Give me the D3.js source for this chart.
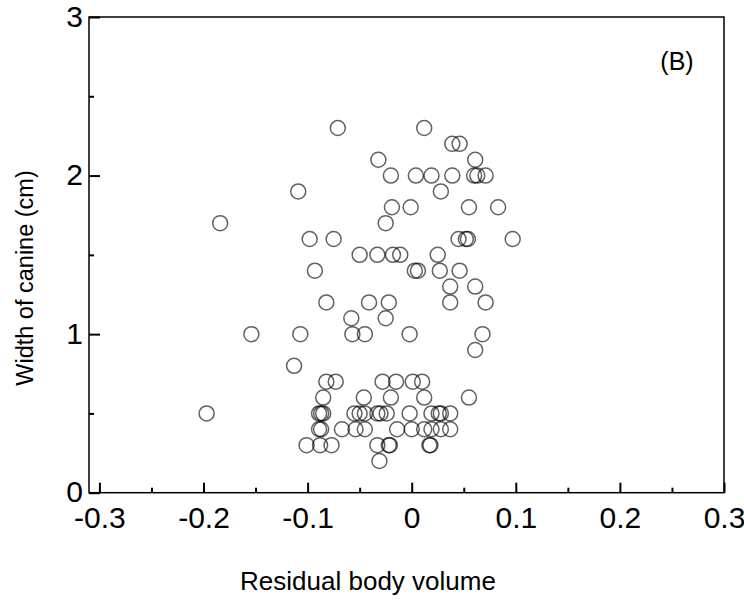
<!DOCTYPE html>
<html>
<head>
<meta charset="utf-8">
<script src="https://cdn.jsdelivr.net/npm/d3@7"></script>
<style>
  body { margin: 0; background: #fff; }
  svg { display: block; }
  text { font-family: "Liberation Sans", Arial, Helvetica, sans-serif; fill: #000; }
</style>
</head>
<body>
<svg id="chart" width="744" height="600"></svg>
<script>
// ---- data ----
const residualVolume = [
  -0.071, 0.012,
  0.039, 0.046,
  -0.032, 0.061,
  -0.020, 0.004, 0.019, 0.039, 0.060, 0.063, 0.071,
  -0.109, 0.028,
  -0.019, -0.001, 0.055, 0.083,
  -0.184, -0.025,
  -0.098, -0.075, 0.045, 0.052, 0.054, 0.097,
  -0.050, -0.033, -0.018, -0.011, 0.025,
  -0.093, 0.003, 0.006, 0.027, 0.046,
  0.037, 0.061,
  -0.082, -0.041, -0.022, 0.037, 0.071,
  -0.058, -0.025,
  -0.154, -0.107, -0.057, -0.045, -0.002, 0.068,
  0.061,
  -0.113,
  -0.082, -0.073, -0.028, -0.015, 0.001, 0.010,
  -0.085, -0.046, -0.020, 0.012, 0.055,
  -0.197, -0.089, -0.087, -0.085, -0.055, -0.050, -0.045, -0.033, -0.030, -0.024, -0.002, 0.019, 0.026, 0.028, 0.037,
  -0.089, -0.087, -0.067, -0.054, -0.045, -0.014, 0.000, 0.012, 0.019, 0.028, 0.037,
  -0.101, -0.088, -0.077, -0.033, -0.022, -0.021, 0.017, 0.018,
  -0.031
];
const canineWidth = [
  2.3, 2.3,
  2.2, 2.2,
  2.1, 2.1,
  2.0, 2.0, 2.0, 2.0, 2.0, 2.0, 2.0,
  1.9, 1.9,
  1.8, 1.8, 1.8, 1.8,
  1.7, 1.7,
  1.6, 1.6, 1.6, 1.6, 1.6, 1.6,
  1.5, 1.5, 1.5, 1.5, 1.5,
  1.4, 1.4, 1.4, 1.4, 1.4,
  1.3, 1.3,
  1.2, 1.2, 1.2, 1.2, 1.2,
  1.1, 1.1,
  1.0, 1.0, 1.0, 1.0, 1.0, 1.0,
  0.9,
  0.8,
  0.7, 0.7, 0.7, 0.7, 0.7, 0.7,
  0.6, 0.6, 0.6, 0.6, 0.6,
  0.5, 0.5, 0.5, 0.5, 0.5, 0.5, 0.5, 0.5, 0.5, 0.5, 0.5, 0.5, 0.5, 0.5, 0.5,
  0.4, 0.4, 0.4, 0.4, 0.4, 0.4, 0.4, 0.4, 0.4, 0.4, 0.4,
  0.3, 0.3, 0.3, 0.3, 0.3, 0.3, 0.3, 0.3,
  0.2
];
const xTickValues = [-0.3, -0.2, -0.1, 0, 0.1, 0.2, 0.3];
const xTickLabels = ["-0.3", "-0.2", "-0.1", "0", "0.1", "0.2", "0.3"];
const xMinorTicks = [-0.25, -0.15, -0.05, 0.05, 0.15, 0.25];
const yTickValues = [0, 1, 2, 3];
const yTickLabels = ["0", "1", "2", "3"];
const yMinorTicks = [0.5, 1.5, 2.5];
const xTitle = "Residual body volume";
const yTitle = "Width of canine (cm)";
const panelLabel = "(B)";

// ---- layout ----
const L = 89, R = 724, T = 17, B = 492.7;
const svg = d3.select("#chart");

const x = d3.scaleLinear().domain([-0.31, 0.30]).range([L, R]);
const y = d3.scaleLinear().domain([0, 3]).range([B, T]);

// frame
svg.append("rect")
  .attr("x", L).attr("y", T).attr("width", R - L).attr("height", B - T)
  .attr("fill", "none").attr("stroke", "#000").attr("stroke-width", 1.5);

// x axis major
const xAxis = svg.append("g").attr("transform", `translate(0,${B})`)
  .call(d3.axisBottom(x).tickValues(xTickValues)
    .tickFormat((d, i) => xTickLabels[i])
    .tickSizeInner(-10).tickSizeOuter(0).tickPadding(14));
// x axis minor
const xMinor = svg.append("g").attr("transform", `translate(0,${B})`)
  .call(d3.axisBottom(x).tickValues(xMinorTicks).tickFormat("")
    .tickSizeInner(-5).tickSizeOuter(0));

// y axis major
const yAxis = svg.append("g").attr("transform", `translate(${L},0)`)
  .call(d3.axisLeft(y).tickValues(yTickValues)
    .tickFormat((d, i) => yTickLabels[i])
    .tickSizeInner(-11).tickSizeOuter(0).tickPadding(6));
const yMinor = svg.append("g").attr("transform", `translate(${L},0)`)
  .call(d3.axisLeft(y).tickValues(yMinorTicks).tickFormat("")
    .tickSizeInner(-5).tickSizeOuter(0));

[xAxis, xMinor, yAxis, yMinor].forEach(g => {
  g.select(".domain").remove();
  g.selectAll(".tick line").attr("stroke", "#000").attr("stroke-width", 2);
  g.selectAll(".tick text").attr("font-size", 30)
    .attr("font-family", "Liberation Sans, Arial, sans-serif").attr("fill", "#000");
});
// keep the bottom y label clear of the x labels
yAxis.selectAll(".tick text").attr("dy", "0.3em");

// points
svg.append("g").selectAll("circle")
  .data(residualVolume.map((v, i) => [v, canineWidth[i]]))
  .join("circle")
  .attr("cx", d => x(d[0]))
  .attr("cy", d => y(d[1]))
  .attr("r", 7.5)
  .attr("fill", "none")
  .attr("stroke", "#000")
  .attr("stroke-opacity", 0.62)
  .attr("stroke-width", 1.5);

// titles
svg.append("text")
  .attr("x", 368).attr("y", 590)
  .attr("text-anchor", "middle").attr("font-size", 26)
  .text(xTitle);
svg.append("text")
  .attr("transform", `translate(33,${278}) rotate(-90)`)
  .attr("text-anchor", "middle").attr("font-size", 23.5)
  .text(yTitle);
svg.append("text")
  .attr("x", 677).attr("y", 70)
  .attr("text-anchor", "middle").attr("font-size", 25)
  .text(panelLabel);
</script>
</body>
</html>
